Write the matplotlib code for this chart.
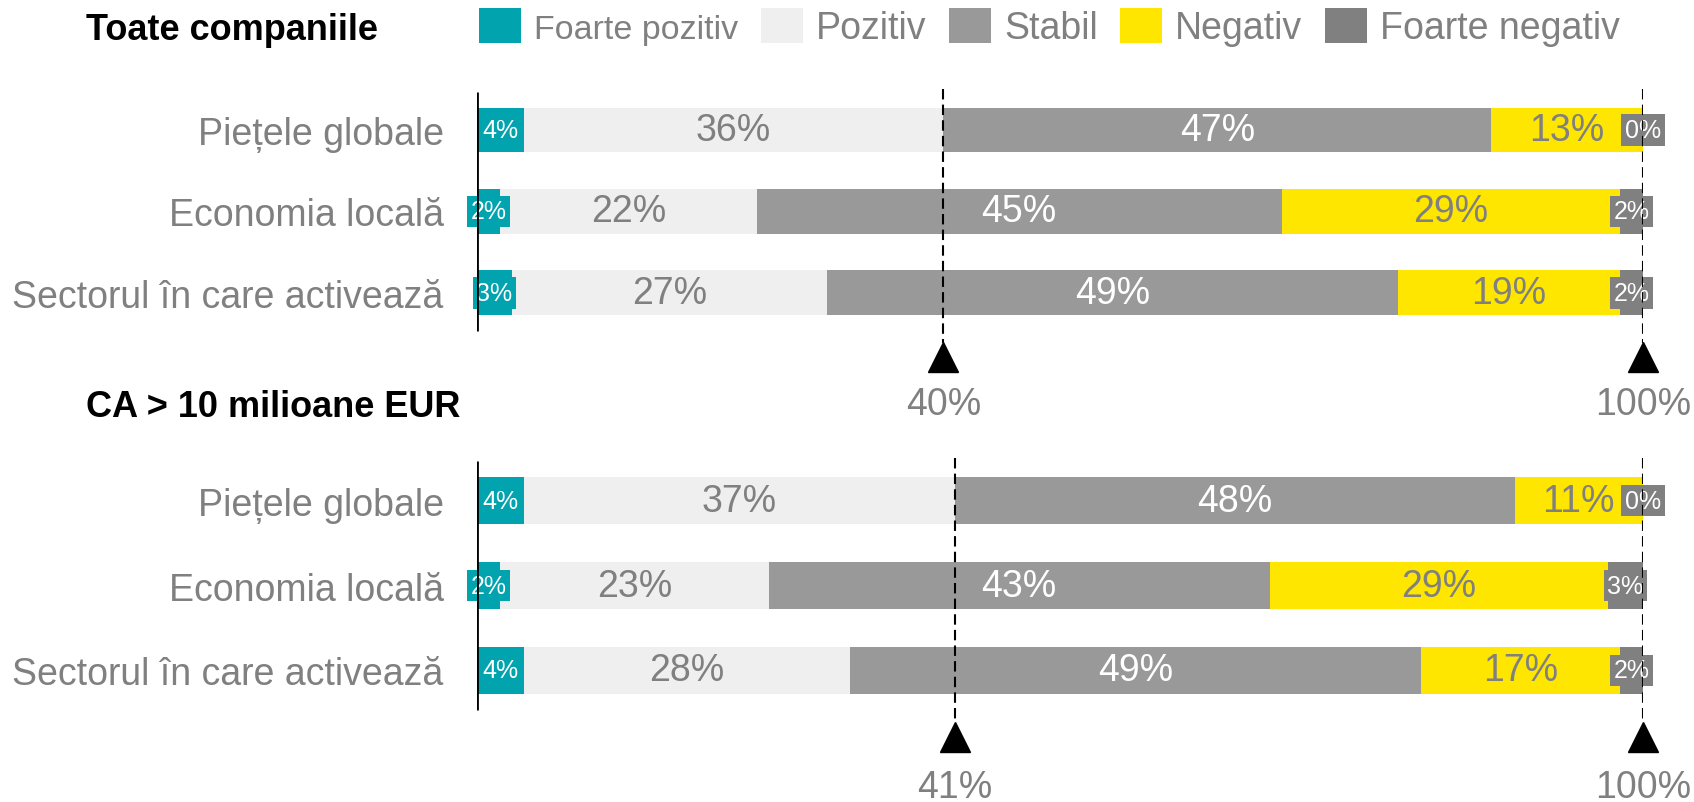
import matplotlib.pyplot as plt
import numpy as np
from matplotlib.patches import Patch

plt.rcParams['font.family'] = ['Liberation Sans', 'DejaVu Sans']

# Date
categorii = ['Piețele globale', 'Economia locală', 'Sectorul în care activează']
serii = ['Foarte pozitiv', 'Pozitiv', 'Stabil', 'Negativ', 'Foarte negativ']

toate = np.array([
    [4, 36, 47, 13, 0],
    [2, 22, 45, 29, 2],
    [3, 27, 49, 19, 2],
])
ca_mare = np.array([
    [4, 37, 48, 11, 0],
    [2, 23, 43, 29, 3],
    [4, 28, 49, 17, 2],
])

markeri_toate = [40, 100]
markeri_ca = [41, 100]

titluri = ['Toate companiile', 'CA > 10 milioane EUR']

culori = ['#00A3AE', '#EFEFEF', '#999999', '#FFE600', '#808080']
culori_text = ['white', '#808080', 'white', '#808080', 'white']
gri = '#808080'

fig = plt.figure(figsize=(16.94, 8.03), dpi=100)
W, H = 1694, 803
left = 477 / W
width = 1166 / W
ax1 = fig.add_axes([left, 1 - 420 / H, width, (420 - 86.2) / H])
ax2 = fig.add_axes([left, 0, width, 348 / H])


def panou(ax, date, markeri):
    y = np.arange(len(categorii))
    start = np.zeros(len(categorii))
    for j, serie in enumerate(serii):
        val = date[:, j]
        ax.barh(y, val, left=start, height=0.55, color=culori[j], linewidth=0)
        for i in range(len(categorii)):
            cx = start[i] + val[i] / 2
            if j in (0, 4):
                ax.text(cx, y[i], f'{val[i]}%', ha='center', va='center',
                        fontsize=18, color='white', zorder=5,
                        bbox=dict(boxstyle='square,pad=0.15', fc=culori[j], ec='none'))
            else:
                ax.text(cx, y[i], f'{val[i]}%', ha='center', va='center',
                        fontsize=27, color=culori_text[j], zorder=4)
        start = start + val

    ax.vlines(0, -0.47, 2.47, color='black', lw=2, zorder=6)
    for m in markeri:
        ax.vlines(m, -0.5, 2.62, color='black', lw=1.5, linestyles=(0, (5, 2.5)), zorder=6)
        ax.plot(m, 2.79, marker='^', ms=21, color='black', clip_on=False, zorder=6)
        ax.text(m, 3.37, f'{m}%', ha='center', va='center', fontsize=27, color=gri)

    ax.set_xlim(0, 100)
    ax.set_ylim(3.55, -0.55)
    ax.set_yticks(y, categorii)
    ax.tick_params(axis='y', length=0, pad=24, labelsize=27, labelcolor=gri)
    ax.set_xticks([])
    for s in ax.spines.values():
        s.set_visible(False)


panou(ax1, toate, markeri_toate)
panou(ax2, ca_mare, markeri_ca)

fig.text(86 / W, 1 - 30 / H, titluri[0], fontsize=26, fontweight='bold', va='center')
fig.text(86 / W, 1 - 408 / H, titluri[1], fontsize=26, fontweight='bold', va='center')

handles = [Patch(facecolor=c, edgecolor='none') for c in culori]
leg = fig.legend(handles, serii, loc='center left', bbox_to_anchor=(479 / W, 1 - 28 / H),
                 ncol=5, frameon=False, fontsize=27, labelcolor=gri,
                 handlelength=1.12, handleheight=1.05, handletextpad=0.35,
                 columnspacing=0.6, borderpad=0, borderaxespad=0)
leg.get_texts()[0].set_fontsize(24.5)

fig.savefig('out.png', dpi=100)
